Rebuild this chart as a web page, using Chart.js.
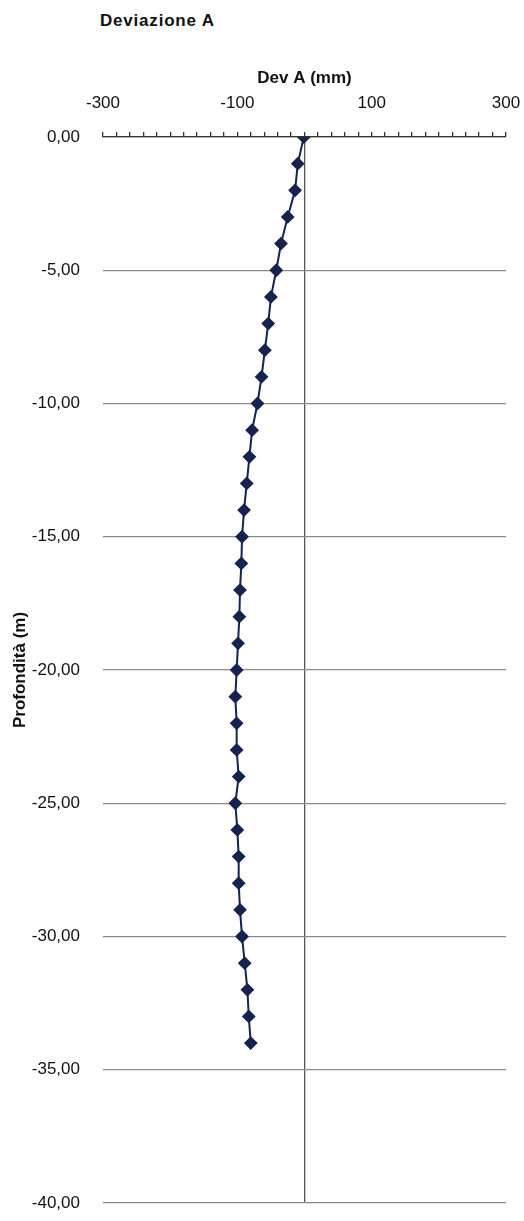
<!DOCTYPE html>
<html>
<head>
<meta charset="utf-8">
<script src="https://cdn.jsdelivr.net/npm/chart.js@4"></script>
<style>
  body { margin: 0; background: #fff; }
  #wrap { position: relative; width: 524px; height: 1221px; }
  #title {
    position: absolute; left: 100px; top: 11px;
    font: bold 17px "Liberation Sans", Arial, sans-serif; color: #111;
    letter-spacing: 0.8px;
  }
  canvas { position: absolute; left: 0; top: 0; }
</style>
</head>
<body>
<div id="wrap">
  <div id="title">Deviazione A</div>
  <canvas id="devChart" width="524" height="1221"></canvas>
</div>
<script>
// profondità (m) e deviazione A (mm)
const depths = [0, -1, -2, -3, -4, -5, -6, -7, -8, -9, -10, -11, -12, -13, -14, -15, -16, -17,
                -18, -19, -20, -21, -22, -23, -24, -25, -26, -27, -28, -29, -30, -31, -32, -33, -34];
const devA = [-1, -10, -14, -25, -35, -42, -50, -54, -59, -64, -70, -78, -82, -86, -90, -93, -94, -96,
              -97, -99, -101, -103, -101, -101, -98, -103, -100, -98, -98, -96, -93, -89, -85, -83, -80];
const xLabels = [-300, -100, 100, 300];
const yTicks = [0, -5, -10, -15, -20, -25, -30, -35, -40];

const font = '"Liberation Sans", Arial, sans-serif';
const points = depths.map((d, i) => ({ x: devA[i], y: d }));

new Chart(document.getElementById('devChart'), {
    type: 'scatter',
    data: {
        datasets: [{
            label: 'Dev A',
            data: points,
            showLine: true,
            borderColor: '#14234f',
            backgroundColor: '#14234f',
            borderWidth: 2,
            pointStyle: 'rectRot',
            pointRadius: 5.5,
            pointHoverRadius: 5.5
        }]
    },
    options: {
        responsive: false,
        devicePixelRatio: 1,
        animation: false,
        layout: { padding: { left: 0, right: 18, top: 0, bottom: 18 } },
        plugins: { legend: { display: false }, tooltip: { enabled: false } },
        scales: {
            x: {
                type: 'linear',
                position: 'top',
                min: -300,
                max: 300,
                afterBuildTicks: scale => {
                    const t = [];
                    for (let v = -300; v <= 300; v += 20) t.push({ value: v });
                    scale.ticks = t;
                },
                afterFit: scale => {
                    scale.height = 137;
                    scale.paddingLeft = 0;
                    scale.paddingRight = 0;
                },
                ticks: {
                    autoSkip: false,
                    maxRotation: 0,
                    padding: 18,
                    color: '#111',
                    font: { family: font, size: 17 },
                    callback: v => xLabels.includes(v) ? String(v) : ''
                },
                grid: {
                    color: c => c.tick && c.tick.value === 0 ? '#555' : 'rgba(0,0,0,0)',
                    tickColor: '#333',
                    tickLength: 5,
                    lineWidth: 1.3
                },
                border: { display: true, color: '#333', width: 1.3 },
                title: {
                    display: true,
                    text: 'Dev A (mm)',
                    color: '#111',
                    font: { family: font, size: 17, weight: 'bold' },
                    padding: { top: 68, bottom: 0 }
                }
            },
            y: {
                type: 'linear',
                min: -40,
                max: 0,
                afterBuildTicks: scale => { scale.ticks = yTicks.map(v => ({ value: v })); },
                afterFit: scale => {
                    scale.width = 103;
                    scale.paddingTop = 0;
                    scale.paddingBottom = 0;
                },
                ticks: {
                    padding: 23,
                    color: '#111',
                    font: { family: font, size: 17 },
                    callback: v => v.toFixed(2).replace('.', ',')
                },
                grid: {
                    color: '#8a8a8a',
                    lineWidth: 1.3,
                    drawTicks: false
                },
                border: { display: false },
                title: {
                    display: true,
                    text: 'Profondità (m)',
                    color: '#111',
                    font: { family: font, size: 17, weight: 'bold' },
                    padding: { top: 10, bottom: 0 }
                }
            }
        }
    }
});
</script>
</body>
</html>
